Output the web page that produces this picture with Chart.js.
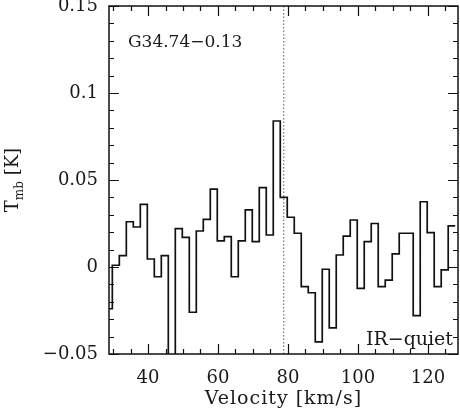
<!DOCTYPE html>
<html>
<head>
<meta charset="utf-8">
<script src="https://cdn.jsdelivr.net/npm/chart.js@4.4.1/dist/chart.umd.min.js"></script>
<style>
  html, body { margin: 0; padding: 0; background: #fff; }
  #wrap { width: 460px; height: 408px; position: relative; }
</style>
</head>
<body>
<div id="wrap"><canvas id="c" width="460" height="408"></canvas></div>
<script>
// ---- data (channel centre velocity in km/s, main-beam temperature in K) ----
const velocities = [28.8, 30.8, 32.8, 34.8, 36.8, 38.8, 40.8, 42.8, 44.8, 46.8,
  48.8, 50.8, 52.8, 54.8, 56.8, 58.8, 60.8, 62.8, 64.8, 66.8,
  68.8, 70.8, 72.8, 74.8, 76.8, 78.8, 80.8, 82.8, 84.8, 86.8,
  88.8, 90.8, 92.8, 94.8, 96.8, 98.8, 100.8, 102.8, 104.8, 106.8,
  108.8, 110.8, 112.8, 114.8, 116.8, 118.8, 120.8, 122.8, 124.8, 126.8];
const tmb = [-0.024, 0.001, 0.0065, 0.026, 0.023, 0.036, 0.0046, -0.0056, 0.0065, -0.065,
  0.022, 0.017, -0.026, 0.0207, 0.0274, 0.0448, 0.015, 0.0174, -0.0056, 0.015,
  0.0328, 0.0146, 0.0456, 0.0184, 0.0839, 0.040, 0.0286, 0.0194, -0.0113, -0.0148,
  -0.043, -0.0013, -0.035, 0.0069, 0.0178, 0.027, -0.0123, 0.0146, 0.025, -0.0113,
  -0.0075, 0.0075, 0.0194, 0.0194, -0.028, 0.0375, 0.0197, -0.0113, -0.0017, 0.0236];
const channelWidth = 2.0;
const refVelocity = 78.8;            // dotted systemic-velocity line
const xRange = [28.85, 128.6];
const yRange = [-0.05, 0.15];
const xTickValues = [40, 60, 80, 100, 120];
const xTickLabels = ['40', '60', '80', '100', '120'];
const yTickValues = [-0.05, 0, 0.05, 0.1, 0.15];
const yTickLabels = ['\u22120.05', '0', '0.05', '0.1', '0.15'];
const xMinorStep = 5, xMajorStep = 20;
const yMinorStep = 0.01, yMajorEvery = 5;
const sourceName = 'G34.74\u22120.13';
const sourceClass = 'IR\u2212quiet';
const xTitle = 'Velocity [km/s]';

// histogram outline built from channel edges
const histPoints = [];
velocities.forEach((v, i) => {
  histPoints.push({ x: v - channelWidth / 2, y: tmb[i] });
  histPoints.push({ x: v + channelWidth / 2, y: tmb[i] });
});
const refLine = [{ x: refVelocity, y: yRange[0] }, { x: refVelocity, y: yRange[1] }];

const FONT = '"DejaVu Serif", serif';
const INK = '#1a1a1a';

const framePlugin = {
  id: 'frameTicks',
  afterDraw(chart) {
    const { ctx, chartArea: a, scales: { x, y } } = chart;
    ctx.save();
    ctx.strokeStyle = '#111';
    ctx.lineWidth = 1.5;
    ctx.strokeRect(a.left, a.top, a.right - a.left, a.bottom - a.top);
    ctx.lineWidth = 1.2;
    ctx.beginPath();
    for (let i = Math.ceil(x.min / xMinorStep); i * xMinorStep <= x.max; i++) {
      const v = i * xMinorStep;
      const px = Math.round(x.getPixelForValue(v)) + 0.5;
      const len = (v % xMajorStep === 0) ? 10 : 5;
      ctx.moveTo(px, a.bottom); ctx.lineTo(px, a.bottom - len);
      ctx.moveTo(px, a.top); ctx.lineTo(px, a.top + len);
    }
    for (let i = Math.ceil(y.min / yMinorStep - 1e-6); i * yMinorStep <= y.max + 1e-9; i++) {
      const py = Math.round(y.getPixelForValue(i * yMinorStep)) + 0.5;
      const len = (i % yMajorEvery === 0) ? 10 : 5;
      ctx.moveTo(a.left, py); ctx.lineTo(a.left + len, py);
      ctx.moveTo(a.right, py); ctx.lineTo(a.right - len, py);
    }
    ctx.stroke();

    ctx.fillStyle = INK;
    ctx.textBaseline = 'alphabetic';
    // source name (top-left) and class (bottom-right)
    ctx.font = '17px ' + FONT;
    ctx.textAlign = 'left';
    ctx.fillText(sourceName, a.left + 19, a.top + 41);
    ctx.font = '19px ' + FONT;
    ctx.textAlign = 'right';
    ctx.fillText(sourceClass, a.right - 5, a.bottom - 9);

    // x-axis title
    ctx.font = '19px ' + FONT;
    ctx.textAlign = 'center';
    try { ctx.letterSpacing = '1px'; } catch (e) {}
    ctx.fillText(xTitle, (a.left + a.right) / 2, 404);
    try { ctx.letterSpacing = '0px'; } catch (e) {}

    // y-axis title: T_mb [K]
    ctx.translate(18, (a.top + a.bottom) / 2);
    ctx.rotate(-Math.PI / 2);
    ctx.textAlign = 'left';
    ctx.font = '18px ' + FONT;
    const wT = ctx.measureText('T').width;
    const wK = ctx.measureText(' [K]').width;
    ctx.font = '12px ' + FONT;
    const wSub = ctx.measureText('mb').width;
    let sx = -(wT + wSub + wK) / 2;
    ctx.font = '18px ' + FONT;
    ctx.fillText('T', sx, 0);
    sx += wT;
    ctx.font = '12px ' + FONT;
    ctx.fillText('mb', sx, 5);
    sx += wSub;
    ctx.font = '18px ' + FONT;
    ctx.fillText(' [K]', sx, 0);
    ctx.restore();
  }
};

new Chart(document.getElementById('c'), {
  type: 'line',
  data: {
    datasets: [
      {
        data: histPoints,
        borderColor: '#111',
        borderWidth: 1.7,
        pointRadius: 0,
        tension: 0,
        fill: false
      },
      {
        data: refLine,
        borderColor: '#555',
        borderWidth: 1,
        borderDash: [1.5, 2],
        pointRadius: 0,
        fill: false
      }
    ]
  },
  options: {
    responsive: false,
    animation: false,
    events: [],
    layout: { padding: { left: 0, right: 2, top: 6, bottom: 0 } },
    plugins: { legend: { display: false }, tooltip: { enabled: false } },
    scales: {
      x: {
        type: 'linear',
        min: xRange[0],
        max: xRange[1],
        afterBuildTicks: (s) => { s.ticks = xTickValues.map(v => ({ value: v })); },
        afterFit: (s) => { s.height = 54; s.paddingLeft = 0; s.paddingRight = 0; },
        grid: { display: false, drawTicks: false },
        border: { display: false },
        ticks: {
          autoSkip: false,
          maxRotation: 0,
          padding: 14,
          color: INK,
          font: { family: FONT, size: 18 },
          callback: (v) => { const i = xTickValues.indexOf(v); return i >= 0 ? xTickLabels[i] : ''; }
        }
      },
      y: {
        type: 'linear',
        min: yRange[0],
        max: yRange[1],
        afterBuildTicks: (s) => { s.ticks = yTickValues.map(v => ({ value: v })); },
        afterFit: (s) => { s.width = 109; s.paddingTop = 0; s.paddingBottom = 0; },
        grid: { display: false, drawTicks: false },
        border: { display: false },
        ticks: {
          autoSkip: false,
          padding: 11,
          color: INK,
          font: { family: FONT, size: 18 },
          callback: (v) => {
            const i = yTickValues.findIndex(t => Math.abs(t - v) < 1e-9);
            return i >= 0 ? yTickLabels[i] : '';
          }
        }
      }
    }
  },
  plugins: [framePlugin]
});
</script>
</body>
</html>
